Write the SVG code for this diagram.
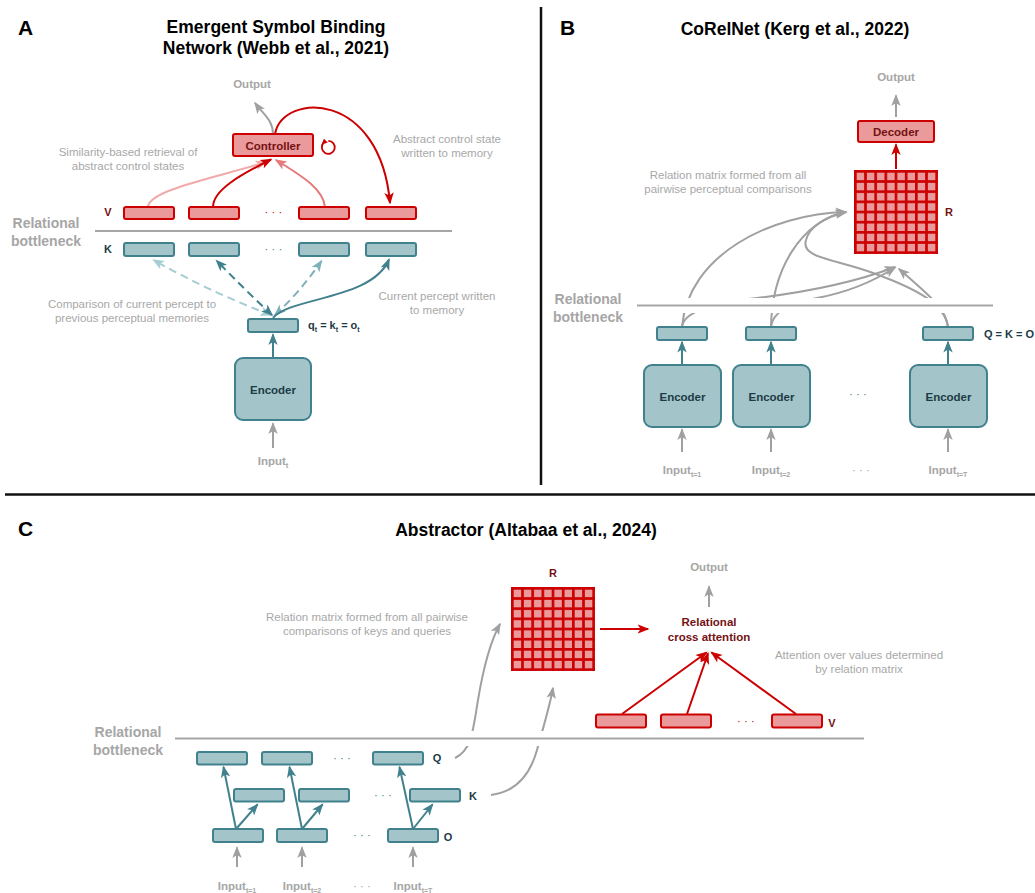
<svg xmlns="http://www.w3.org/2000/svg" width="1035" height="893" viewBox="0 0 1035 893">
<style>
text { font-family: "Liberation Sans", Arial, sans-serif; }
.title { font-size: 17.5px; font-weight: bold; fill: #000; text-anchor: middle; }
.plabel { font-size: 21px; font-weight: bold; fill: #000; }
.ann { font-size: 11.5px; fill: #a8a8a8; text-anchor: middle; }
.gb { font-size: 11.5px; font-weight: bold; fill: #a6a6a6; text-anchor: middle; }
.rb { font-size: 14px; font-weight: bold; fill: #a6a6a6; text-anchor: middle; }
.rn { fill: #ea9a9b; stroke: #cc0000; stroke-width: 2; }
.tn { fill: #a3c4c9; stroke: #41818d; stroke-width: 2; }
.rt { font-size: 11.5px; font-weight: bold; fill: #741212; text-anchor: middle; }
.tt { font-size: 11.5px; font-weight: bold; fill: #1d3b45; text-anchor: middle; }
.lab { font-size: 11px; font-weight: bold; }
.dotsr { font-size: 11.5px; fill: #cc0000; text-anchor: middle; }
.dotst { font-size: 11.5px; fill: #41818d; text-anchor: middle; }
.dotsg { font-size: 11.5px; fill: #a6a6a6; text-anchor: middle; }
.c { fill: none; stroke-width: 2; }
.g { stroke: #a0a0a0; marker-end: url(#ag); }
.r { stroke: #cc0000; marker-end: url(#ar); }
.t { stroke: #41818d; marker-end: url(#at); }
.halo { stroke: #fff; stroke-width: 15; }
.bn { stroke: #a6a6a6; stroke-width: 2; }
.div { stroke: #111; stroke-width: 2.5; }
</style>
<defs>
<marker id="ag" viewBox="0 0 12 10" refX="10.5" refY="5" markerWidth="12" markerHeight="10" markerUnits="userSpaceOnUse" orient="auto"><path d="M0,0.3 L12,5 L0,9.7 L3,5 z" fill="#a0a0a0"/></marker>
<marker id="ar" viewBox="0 0 12 10" refX="10.5" refY="5" markerWidth="12" markerHeight="10" markerUnits="userSpaceOnUse" orient="auto"><path d="M0,0.3 L12,5 L0,9.7 L3,5 z" fill="#cc0000"/></marker>
<marker id="arl" viewBox="0 0 12 10" refX="10.5" refY="5" markerWidth="12" markerHeight="10" markerUnits="userSpaceOnUse" orient="auto"><path d="M0,0.3 L12,5 L0,9.7 L3,5 z" fill="#f2a9a9"/></marker>
<marker id="arm" viewBox="0 0 12 10" refX="10.5" refY="5" markerWidth="12" markerHeight="10" markerUnits="userSpaceOnUse" orient="auto"><path d="M0,0.3 L12,5 L0,9.7 L3,5 z" fill="#e67a7a"/></marker>
<marker id="at" viewBox="0 0 12 10" refX="10.5" refY="5" markerWidth="12" markerHeight="10" markerUnits="userSpaceOnUse" orient="auto-start-reverse"><path d="M0,0.3 L12,5 L0,9.7 L3,5 z" fill="#41818d"/></marker>
<marker id="atl" viewBox="0 0 12 10" refX="10.5" refY="5" markerWidth="12" markerHeight="10" markerUnits="userSpaceOnUse" orient="auto-start-reverse"><path d="M0,0.3 L12,5 L0,9.7 L3,5 z" fill="#a6cdd3"/></marker>
<marker id="atm" viewBox="0 0 12 10" refX="10.5" refY="5" markerWidth="12" markerHeight="10" markerUnits="userSpaceOnUse" orient="auto-start-reverse"><path d="M0,0.3 L12,5 L0,9.7 L3,5 z" fill="#7fb1bb"/></marker>
<marker id="arsm" viewBox="0 0 10 10" refX="5" refY="5" markerWidth="6" markerHeight="6" markerUnits="userSpaceOnUse" orient="auto"><path d="M0,0.5 L10,5 L0,9.5 z" fill="#cc0000"/></marker>
<pattern id="cells" width="10.1667" height="10.1667" patternUnits="userSpaceOnUse"><rect x="2.667" y="2.667" width="7.5" height="7.5" fill="#ea9a9b"/></pattern>
</defs>
<rect width="1035" height="893" fill="#fff"/>

<!-- dividers -->
<g id="dividers">
<line class="div" x1="541" y1="7" x2="541" y2="485"/>
<line class="div" x1="5" y1="494.5" x2="1035" y2="494.5"/>
</g>

<!-- titles -->
<g id="titles">
<text class="plabel" x="18" y="35">A</text>
<text class="title" x="276" y="33">Emergent Symbol Binding</text>
<text class="title" x="276" y="54">Network (Webb et al., 2021)</text>
<text class="plabel" x="560" y="35">B</text>
<text class="title" x="795" y="35">CoRelNet (Kerg et al., 2022)</text>
<text class="plabel" x="18" y="536">C</text>
<text class="title" x="526" y="536">Abstractor (Altabaa et al., 2024)</text>
</g>

<!-- annotations -->
<g id="annotations">
<text class="ann" x="128" y="155.5">Similarity-based retrieval of</text>
<text class="ann" x="128" y="169.5">abstract control states</text>
<text class="ann" x="447" y="142.5">Abstract control state</text>
<text class="ann" x="447" y="156.5">written to memory</text>
<text class="ann" x="132" y="308">Comparison of current percept to</text>
<text class="ann" x="132" y="322">previous perceptual memories</text>
<text class="ann" x="437" y="300">Current percept written</text>
<text class="ann" x="437" y="314">to memory</text>
<text class="ann" x="728" y="179">Relation matrix formed from all</text>
<text class="ann" x="728" y="193">pairwise perceptual comparisons</text>
<text class="ann" x="367" y="621">Relation matrix formed from all pairwise</text>
<text class="ann" x="367" y="635">comparisons of keys and queries</text>
<text class="ann" x="859" y="659">Attention over values determined</text>
<text class="ann" x="859" y="673">by relation matrix</text>
</g>

<!-- connectors -->
<g id="connectors">
<!-- Panel A -->
<path class="c g" d="M273,134 C273,120 263,114 255,103"/>
<path class="c r" d="M275,134 C283,92 380,90 390,203"/>
<path class="c" stroke="#f2a9a9" marker-end="url(#arl)" d="M148,207 C149,190 215,178 266,162"/>
<path class="c" stroke="#e67a7a" marker-end="url(#arm)" d="M325,207 C323,188 300,175 276,160"/>
<path class="c r" d="M213,207 C213,190 240,175 271,159.5"/>
<path d="M323.7,142.7 A6.5,6.5 0 1 0 328.3,140.8" fill="none" stroke="#cc0000" stroke-width="1.8" marker-start="url(#arsm)"/>
<path class="c" stroke="#a6cdd3" stroke-dasharray="8,5" marker-start="url(#atl)" marker-end="url(#atl)" d="M271,315 Q210,292 153.5,260"/>
<path class="c" stroke="#7fb1bb" stroke-dasharray="8,5" marker-start="url(#atm)" marker-end="url(#atm)" d="M275,315 Q300,292 321.5,261"/>
<path class="c" stroke="#41818d" stroke-dasharray="8,5" marker-start="url(#at)" marker-end="url(#at)" d="M272,315 Q245,290 216.5,260.5"/>
<path class="c t" d="M273,318 C290,297 372,300 389,259.5"/>
<path class="c t" d="M273,358 L273,334.5"/>
<path class="c g" d="M273,448 L273,423.5"/>
<!-- Panel B -->
<path class="c g" d="M896,117 L896,95.5"/>
<path class="c r" d="M896,169 L896,144.5"/>
<path class="c t" d="M682,365 L682,342"/>
<path class="c t" d="M771,365 L771,342"/>
<path class="c t" d="M948,365 L948,342"/>
<path class="c g" d="M682,452 L682,429.5"/>
<path class="c g" d="M771,452 L771,429.5"/>
<path class="c g" d="M948,452 L948,429.5"/>
<path class="c g" d="M682,327 C688,255 770,214 846,212"/>
<path class="c g" d="M771,327 C772,270 800,222 846,212"/>
<path class="c g" d="M948,327 C945,305 920,290 873,273 C835,259 800,258 806,240 C809,228 825,216 846,212"/>
<path class="c g" d="M682,327 Q684,306 757,298 Q840,288 895,267"/>
<path class="c g" d="M771,327 Q773,306 817,298 Q860,290 895,267.5"/>
<path class="c g" d="M948,327 C946,310 935,300 899,269"/>
<!-- Panel C -->
<path class="c t" d="M236,829 L223.5,767"/>
<path class="c t" d="M236,829 L257.5,804.5"/>
<path class="c t" d="M302,829 L289.5,767"/>
<path class="c t" d="M302,829 L322.5,804.5"/>
<path class="c t" d="M413,829 L399.5,767"/>
<path class="c t" d="M413,829 L432.5,804.5"/>
<path class="c g" d="M237,867 L237,847.5"/>
<path class="c g" d="M302,867 L302,847.5"/>
<path class="c g" d="M413,867 L413,847.5"/>
<path class="c g" d="M455,758 C472,750 473,730 478,700 C483,670 490,642 500,624"/>
<path class="c g" d="M491,795 C515,792 530,775 537,750 C544,725 550,705 553,688"/>
<path class="c r" d="M600,629 L648,629"/>
<path class="c r" d="M622,714 L706.5,652.5"/>
<path class="c r" d="M687,714 L708,653.5"/>
<path class="c r" d="M796,714 L711.5,652.5"/>
<path class="c g" d="M709,607 L709,586.5"/>
</g>

<!-- relational bottlenecks -->
<g id="bottleneck-A">
<line class="bn" x1="95" y1="231" x2="452" y2="231"/>
<text class="rb" x="46" y="228">Relational</text>
<text class="rb" x="46" y="246">bottleneck</text>
</g>
<g id="bottleneck-B">
<line class="halo" x1="637" y1="305.5" x2="993" y2="305.5"/>
<line class="bn" x1="637" y1="305.5" x2="993" y2="305.5"/>
<text class="rb" x="588" y="304">Relational</text>
<text class="rb" x="588" y="321.5">bottleneck</text>
</g>
<g id="bottleneck-C">
<line class="halo" x1="175" y1="738.5" x2="864" y2="738.5"/>
<line class="bn" x1="175" y1="738.5" x2="864" y2="738.5"/>
<text class="rb" x="128" y="737">Relational</text>
<text class="rb" x="128" y="755">bottleneck</text>
</g>

<!-- Panel A nodes -->
<g id="A-output"><text class="gb" x="252" y="87.5">Output</text></g>
<g id="A-controller">
<rect class="rn" x="233" y="134" width="80" height="22" rx="2"/>
<text class="rt" x="273" y="149.5">Controller</text>
</g>
<g id="A-V">
<text class="lab" x="108" y="216" fill="#741212" text-anchor="middle">V</text>
<rect class="rn" x="124" y="207" width="50" height="12" rx="2"/>
<rect class="rn" x="189" y="207" width="50" height="12" rx="2"/>
<text class="dotsr" x="273.5" y="216">· · ·</text>
<rect class="rn" x="299" y="207" width="50" height="12" rx="2"/>
<rect class="rn" x="366" y="207" width="50" height="12" rx="2"/>
</g>
<g id="A-K">
<text class="lab" x="108" y="253" fill="#1d3b45" text-anchor="middle">K</text>
<rect class="tn" x="124" y="243" width="50" height="13" rx="2"/>
<rect class="tn" x="189" y="243" width="50" height="13" rx="2"/>
<text class="dotst" x="273.5" y="253">· · ·</text>
<rect class="tn" x="299" y="243" width="50" height="13" rx="2"/>
<rect class="tn" x="366" y="243" width="50" height="13" rx="2"/>
</g>
<g id="A-q">
<rect class="tn" x="248" y="319" width="50" height="13" rx="2"/>
<text class="lab" x="308" y="329" fill="#1d3b45">q<tspan dy="3" font-size="7">t</tspan><tspan dy="-3"> = k</tspan><tspan dy="3" font-size="7">t</tspan><tspan dy="-3"> = o</tspan><tspan dy="3" font-size="7">t</tspan></text>
</g>
<g id="A-encoder">
<rect class="tn" x="235" y="358" width="76" height="62" rx="8"/>
<text class="tt" x="273" y="394">Encoder</text>
</g>
<g id="A-input"><text class="gb" x="273" y="465">Input<tspan dy="3" font-size="7.5">t</tspan></text></g>

<!-- Panel B nodes -->
<g id="B-output"><text class="gb" x="896" y="81">Output</text></g>
<g id="B-decoder">
<rect class="rn" x="858" y="121" width="76" height="21" rx="2"/>
<text class="rt" x="896" y="136">Decoder</text>
</g>
<g id="B-R">
<g transform="translate(854,170)">
<rect width="84" height="84" fill="#cc0000"/>
<rect width="84" height="84" fill="url(#cells)"/>
</g>
<text class="lab" x="949" y="216" fill="#741212" text-anchor="middle">R</text>
</g>
<g id="B-embeddings">
<rect class="tn" x="657" y="327" width="50" height="13" rx="2"/>
<rect class="tn" x="746" y="327" width="50" height="13" rx="2"/>
<rect class="tn" x="923" y="327" width="50" height="13" rx="2"/>
<text class="lab" x="984" y="337.5" fill="#1d3b45" font-size="11.5">Q = K = O</text>
</g>
<g id="B-encoder1">
<rect class="tn" x="644" y="365" width="77" height="62" rx="8"/>
<text class="tt" x="682.5" y="401">Encoder</text>
</g>
<g id="B-encoder2">
<rect class="tn" x="733" y="365" width="77" height="62" rx="8"/>
<text class="tt" x="771.5" y="401">Encoder</text>
</g>
<text class="dotst" x="858" y="398">· · ·</text>
<g id="B-encoder3">
<rect class="tn" x="910" y="365" width="77" height="62" rx="8"/>
<text class="tt" x="948.5" y="401">Encoder</text>
</g>
<g id="B-inputs">
<text class="gb" x="682" y="474">Input<tspan dy="3" font-size="7">t=1</tspan></text>
<text class="gb" x="771" y="474">Input<tspan dy="3" font-size="7">t=2</tspan></text>
<text class="dotsg" x="861" y="474">· · ·</text>
<text class="gb" x="948" y="474">Input<tspan dy="3" font-size="7">t=T</tspan></text>
</g>

<!-- Panel C nodes -->
<g id="C-R">
<text class="lab" x="553" y="577" fill="#741212" text-anchor="middle">R</text>
<g transform="translate(511,587)">
<rect width="84" height="84" fill="#cc0000"/>
<rect width="84" height="84" fill="url(#cells)"/>
</g>
</g>
<g id="C-output"><text class="gb" x="709" y="571">Output</text></g>
<g id="C-cross-attention">
<text class="rt" x="709" y="626">Relational</text>
<text class="rt" x="709" y="640.5">cross attention</text>
</g>
<g id="C-V">
<rect class="rn" x="596" y="714.5" width="50" height="13" rx="2"/>
<rect class="rn" x="661" y="714.5" width="50" height="13" rx="2"/>
<text class="dotsr" x="746" y="725">· · ·</text>
<rect class="rn" x="772" y="714.5" width="50" height="13" rx="2"/>
<text class="lab" x="832" y="727" fill="#741212" text-anchor="middle">V</text>
</g>
<g id="C-Q">
<rect class="tn" x="197" y="752" width="50" height="12.5" rx="2"/>
<rect class="tn" x="262" y="752" width="50" height="12.5" rx="2"/>
<text class="dotst" x="342" y="762">· · ·</text>
<rect class="tn" x="373" y="752" width="50" height="12.5" rx="2"/>
<text class="lab" x="437" y="762" fill="#1d3b45" text-anchor="middle">Q</text>
</g>
<g id="C-K">
<rect class="tn" x="234" y="789" width="50" height="12.5" rx="2"/>
<rect class="tn" x="299" y="789" width="50" height="12.5" rx="2"/>
<text class="dotst" x="383" y="799">· · ·</text>
<rect class="tn" x="410" y="789" width="50" height="12.5" rx="2"/>
<text class="lab" x="473" y="800" fill="#1d3b45" text-anchor="middle">K</text>
</g>
<g id="C-O">
<rect class="tn" x="213" y="829" width="50" height="13" rx="2"/>
<rect class="tn" x="277" y="829" width="50" height="13" rx="2"/>
<text class="dotst" x="362" y="839">· · ·</text>
<rect class="tn" x="388" y="829" width="50" height="13" rx="2"/>
<text class="lab" x="448" y="840.5" fill="#1d3b45" text-anchor="middle">O</text>
</g>
<g id="C-inputs">
<text class="gb" x="237" y="890">Input<tspan dy="3" font-size="7">t=1</tspan></text>
<text class="gb" x="302" y="890">Input<tspan dy="3" font-size="7">t=2</tspan></text>
<text class="dotsg" x="362" y="890">· · ·</text>
<text class="gb" x="413" y="890">Input<tspan dy="3" font-size="7">t=T</tspan></text>
</g>
</svg>
